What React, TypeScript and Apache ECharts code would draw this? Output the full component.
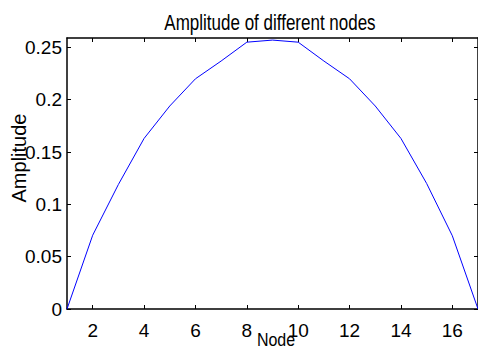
import React, { useEffect, useRef } from "react";
import * as echarts from "echarts";

const nodes = [1, 2, 3, 4, 5, 6, 7, 8, 9, 10, 11, 12, 13, 14, 15, 16, 17];
const amplitude = [0, 0.0705, 0.119, 0.163, 0.194, 0.22, 0.237, 0.255, 0.257, 0.255, 0.237, 0.22, 0.194, 0.163, 0.12, 0.07, 0];
const xTicks = [2, 4, 6, 8, 10, 12, 14, 16];
const yTicks = [0, 0.05, 0.1, 0.15, 0.2, 0.25];
const titleText = "Amplitude of different nodes";
const xName = "Node";
const yName = "Amplitude";

const FONT = "'Liberation Sans', Arial, sans-serif";

export default function App() {
  const ref = useRef<HTMLDivElement>(null);
  useEffect(() => {
    if (!ref.current) return;
    const chart = echarts.init(ref.current, null, { renderer: "svg" });
    const tickStyle = { show: true, inside: true, length: 4, lineStyle: { color: "#000", width: 1 } };
    const lineStyle = { color: "#000", width: 1.5 };
    chart.setOption({
      animation: false,
      backgroundColor: "#fff",
      grid: { left: 67, top: 38, width: 413, height: 271, containLabel: false },
      xAxis: [
        {
          type: "value",
          min: 1,
          max: 17,
          axisLine: { show: true, onZero: false, lineStyle },
          axisTick: { ...tickStyle, customValues: xTicks },
          axisLabel: { customValues: xTicks, color: "#000", fontFamily: FONT, fontSize: 19, margin: 12 },
          splitLine: { show: false },
        },
        {
          type: "value",
          position: "top",
          min: 1,
          max: 17,
          axisLine: { show: true, onZero: false, lineStyle },
          axisTick: { ...tickStyle, customValues: xTicks },
          axisLabel: { show: false },
          splitLine: { show: false },
        },
      ],
      yAxis: [
        {
          type: "value",
          min: 0,
          max: 0.259,
          axisLine: { show: true, onZero: false, lineStyle },
          axisTick: { ...tickStyle, customValues: yTicks },
          axisLabel: { customValues: yTicks, color: "#000", fontFamily: FONT, fontSize: 19, margin: 5 },
          splitLine: { show: false },
        },
        {
          type: "value",
          position: "right",
          min: 0,
          max: 0.259,
          axisLine: { show: true, onZero: false, lineStyle },
          axisTick: { ...tickStyle, customValues: yTicks },
          axisLabel: { show: false },
          splitLine: { show: false },
        },
      ],
      graphic: [
        {
          type: "text",
          x: 270,
          y: 22.5,
          scaleY: 1.3,
          style: { text: titleText, fontFamily: FONT, fontSize: 17, fill: "#000", align: "center", verticalAlign: "middle" },
        },
        {
          type: "text",
          x: 276,
          y: 340,
          scaleY: 1.15,
          style: { text: xName, fontFamily: FONT, fontSize: 16, fill: "#000", align: "center", verticalAlign: "middle" },
        },
        {
          type: "text",
          x: 18.5,
          y: 158,
          rotation: Math.PI / 2,
          style: { text: yName, fontFamily: FONT, fontSize: 20, fill: "#000", align: "center", verticalAlign: "middle" },
        },
      ],
      series: [
        {
          type: "line",
          data: nodes.map((n, i) => [n, amplitude[i]]),
          xAxisIndex: 0,
          yAxisIndex: 0,
          showSymbol: false,
          symbol: "none",
          lineStyle: { color: "#0000ff", width: 1 },
        },
      ],
    });
    return () => chart.dispose();
  }, []);
  return <div ref={ref} style={{ position: "fixed", left: 0, top: 0, width: 478, height: 352 }} />;
}
